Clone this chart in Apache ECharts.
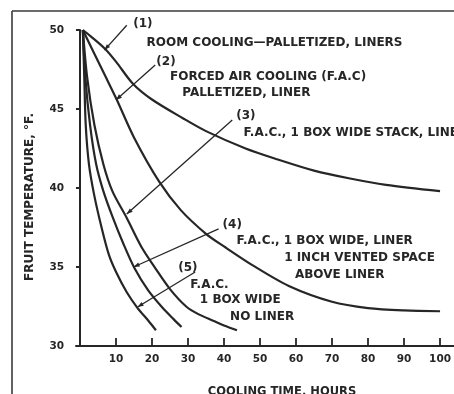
<!DOCTYPE html>
<html><head><meta charset="utf-8">
<script src="https://cdn.jsdelivr.net/npm/echarts@6/dist/echarts.min.js"></script>
<style>html,body{margin:0;padding:0;background:#fff}#c{width:454px;height:394px}</style>
</head><body><div id="c"></div>
<script>
// ---- data (hours, °F) ----
const xTicks = [10, 20, 30, 40, 50, 60, 70, 80, 90, 100];
const yTicks = [30, 35, 40, 45, 50];
const curve1 = [[0.8,50],[3,49.6],[7,48.8],[10,48],[14.7,46.6],[20,45.6],[28.7,44.4],[35,43.6],[46,42.5],[55,41.8],[65,41.1],[75,40.6],[85,40.2],[100,39.8]];
const curve2 = [[0.8,50],[4,48.5],[7,47.1],[10.2,45.6],[15,43.2],[22,40.4],[28,38.6],[35,37.1],[40,36.3],[48,35.1],[58,33.8],[70,32.8],[80,32.4],[90,32.25],[100,32.2]];
const curve3 = [[0.8,50],[2,47],[4,44],[6.5,41.5],[9,39.8],[13,38.1],[17,36.3],[21,34.9],[25,33.6],[29.5,32.5],[33,32.0],[37,31.6],[40,31.3],[43.6,31.0]];
const curve4 = [[0.8,50],[1.5,47],[2.8,44],[4.5,41.5],[6.5,39.8],[9,38.2],[12,36.5],[15.2,34.9],[19,33.5],[23,32.4],[26,31.7],[28.2,31.2]];
const curve5 = [[0.8,50],[1.2,47],[1.6,44],[2.5,41.5],[4,39.5],[6,37.5],[8,35.8],[10,34.7],[13,33.4],[16,32.4],[19,31.6],[21.1,31.0]];
// annotation arrows: [from, to] in data units
const arrows = [
  [[13.0,50.3],[6.8,48.73]],
  [[20.9,47.78],[10.0,45.57]],
  [[42.3,44.3],[13.0,38.35]],
  [[38.5,37.41],[14.9,35.0]],
  [[32.0,34.68],[16.0,32.47]]
];
// annotation texts: [text, hours, temp] (left-anchored)
const notes = [
  ['(1)', 14.8, 50.38],
  ['ROOM COOLING\u2014PALLETIZED, LINERS', 18.5, 49.18],
  ['(2)', 21.2, 47.97],
  ['FORCED AIR COOLING (F.A.C)', 25.0, 47.03],
  ['PALLETIZED, LINER', 28.4, 46.01],
  ['(3)', 43.4, 44.56],
  ['F.A.C., 1 BOX WIDE STACK, LINER', 45.4, 43.48],
  ['(4)', 39.6, 37.66],
  ['F.A.C., 1 BOX WIDE, LINER', 43.5, 36.65],
  ['1 INCH VENTED SPACE', 56.7, 35.57],
  ['ABOVE LINER', 59.7, 34.49],
  ['(5)', 27.3, 34.94],
  ['F.A.C.', 30.6, 33.86],
  ['1 BOX WIDE', 33.3, 32.91],
  ['NO LINER', 41.7, 31.84]
];

const INK = '#262626';
const FONT = '"DejaVu Sans", "Liberation Sans", sans-serif';
const chart = echarts.init(document.getElementById('c'), null, {renderer:'canvas'});
function curveSeries(d){
  return {type:'line', data:d, showSymbol:false, smooth:0.3,
    lineStyle:{color:INK, width:2.2}, z:3, animation:false, clip:false};
}
chart.setOption({
  animation:false,
  backgroundColor:'#fff',
  grid:{left:76, right:5, top:30, bottom:48},
  xAxis:{type:'value', min:-1.1, max:100,
    axisLine:{show:true, lineStyle:{color:INK, width:2}},
    axisTick:{show:true, inside:true, length:8, customValues:xTicks, lineStyle:{color:INK, width:1.8}},
    axisLabel:{customValues:xTicks, color:INK, fontFamily:FONT, fontWeight:'bold', fontSize:10.5, margin:8},
    splitLine:{show:false}},
  yAxis:[{type:'value', min:30, max:50, interval:5,
    axisLine:{show:true, lineStyle:{color:INK, width:2}},
    axisTick:{show:true, inside:false, length:4, lineStyle:{color:INK, width:1.8}},
    axisLabel:{color:INK, fontFamily:FONT, fontWeight:'bold', fontSize:10.5, margin:12,
      formatter:v => yTicks.includes(v) ? String(v) : ''},
    splitLine:{show:false}},
   {type:'value', min:30, max:50, interval:5, position:'left',
    axisLine:{show:false},
    axisTick:{show:true, inside:true, length:4, lineStyle:{color:INK, width:1.8}},
    axisLabel:{show:false}, splitLine:{show:false}}],
  series:[curve1, curve2, curve3, curve4, curve5].map(curveSeries)
});

const P = (h,t) => chart.convertToPixel({gridIndex:0}, [h,t]);
const g = [];
// frame of the scanned figure
g.push({type:'line', shape:{x1:12, y1:11, x2:454, y2:11}, style:{stroke:'#3a3a3a', lineWidth:1.6}});
g.push({type:'line', shape:{x1:12, y1:11, x2:12, y2:394}, style:{stroke:'#3a3a3a', lineWidth:1.6}});
// x axis line runs on to the right edge of the scan
const endPt = P(100, 30);
g.push({type:'line', shape:{x1:endPt[0], y1:endPt[1], x2:454, y2:endPt[1]}, style:{stroke:INK, lineWidth:2}});
arrows.forEach(([a,b]) => {
  const p = P(a[0],a[1]), q = P(b[0],b[1]);
  g.push({type:'line', shape:{x1:p[0], y1:p[1], x2:q[0], y2:q[1]}, style:{stroke:INK, lineWidth:1.3}, z:10});
  const ang = Math.atan2(q[1]-p[1], q[0]-p[0]);
  const L = 6, W = 2.2;
  const bx = q[0]-L*Math.cos(ang), by = q[1]-L*Math.sin(ang);
  g.push({type:'polygon', shape:{points:[[q[0],q[1]],[bx - W*Math.sin(ang), by + W*Math.cos(ang)],[bx + W*Math.sin(ang), by - W*Math.cos(ang)]]},
    style:{fill:INK}, z:10});
});
notes.forEach(([txt,h,t]) => {
  const p = P(h,t);
  g.push({type:'text', x:p[0], y:p[1], style:{text:txt, fill:INK, font:'bold 12px ' + FONT, textAlign:'left', textVerticalAlign:'middle'}, z:10});
});
// axis titles
g.push({type:'text', x:30, y:197, rotation:Math.PI/2, style:{text:'FRUIT TEMPERATURE, \u00B0F.', fill:INK, font:'bold 12px ' + FONT, textAlign:'center', textVerticalAlign:'middle'}});
g.push({type:'text', x:282, y:392, style:{text:'COOLING TIME, HOURS', fill:INK, font:'bold 11.5px ' + FONT, textAlign:'center', textVerticalAlign:'middle'}});
chart.setOption({graphic:{elements:g}});
</script></body></html>
